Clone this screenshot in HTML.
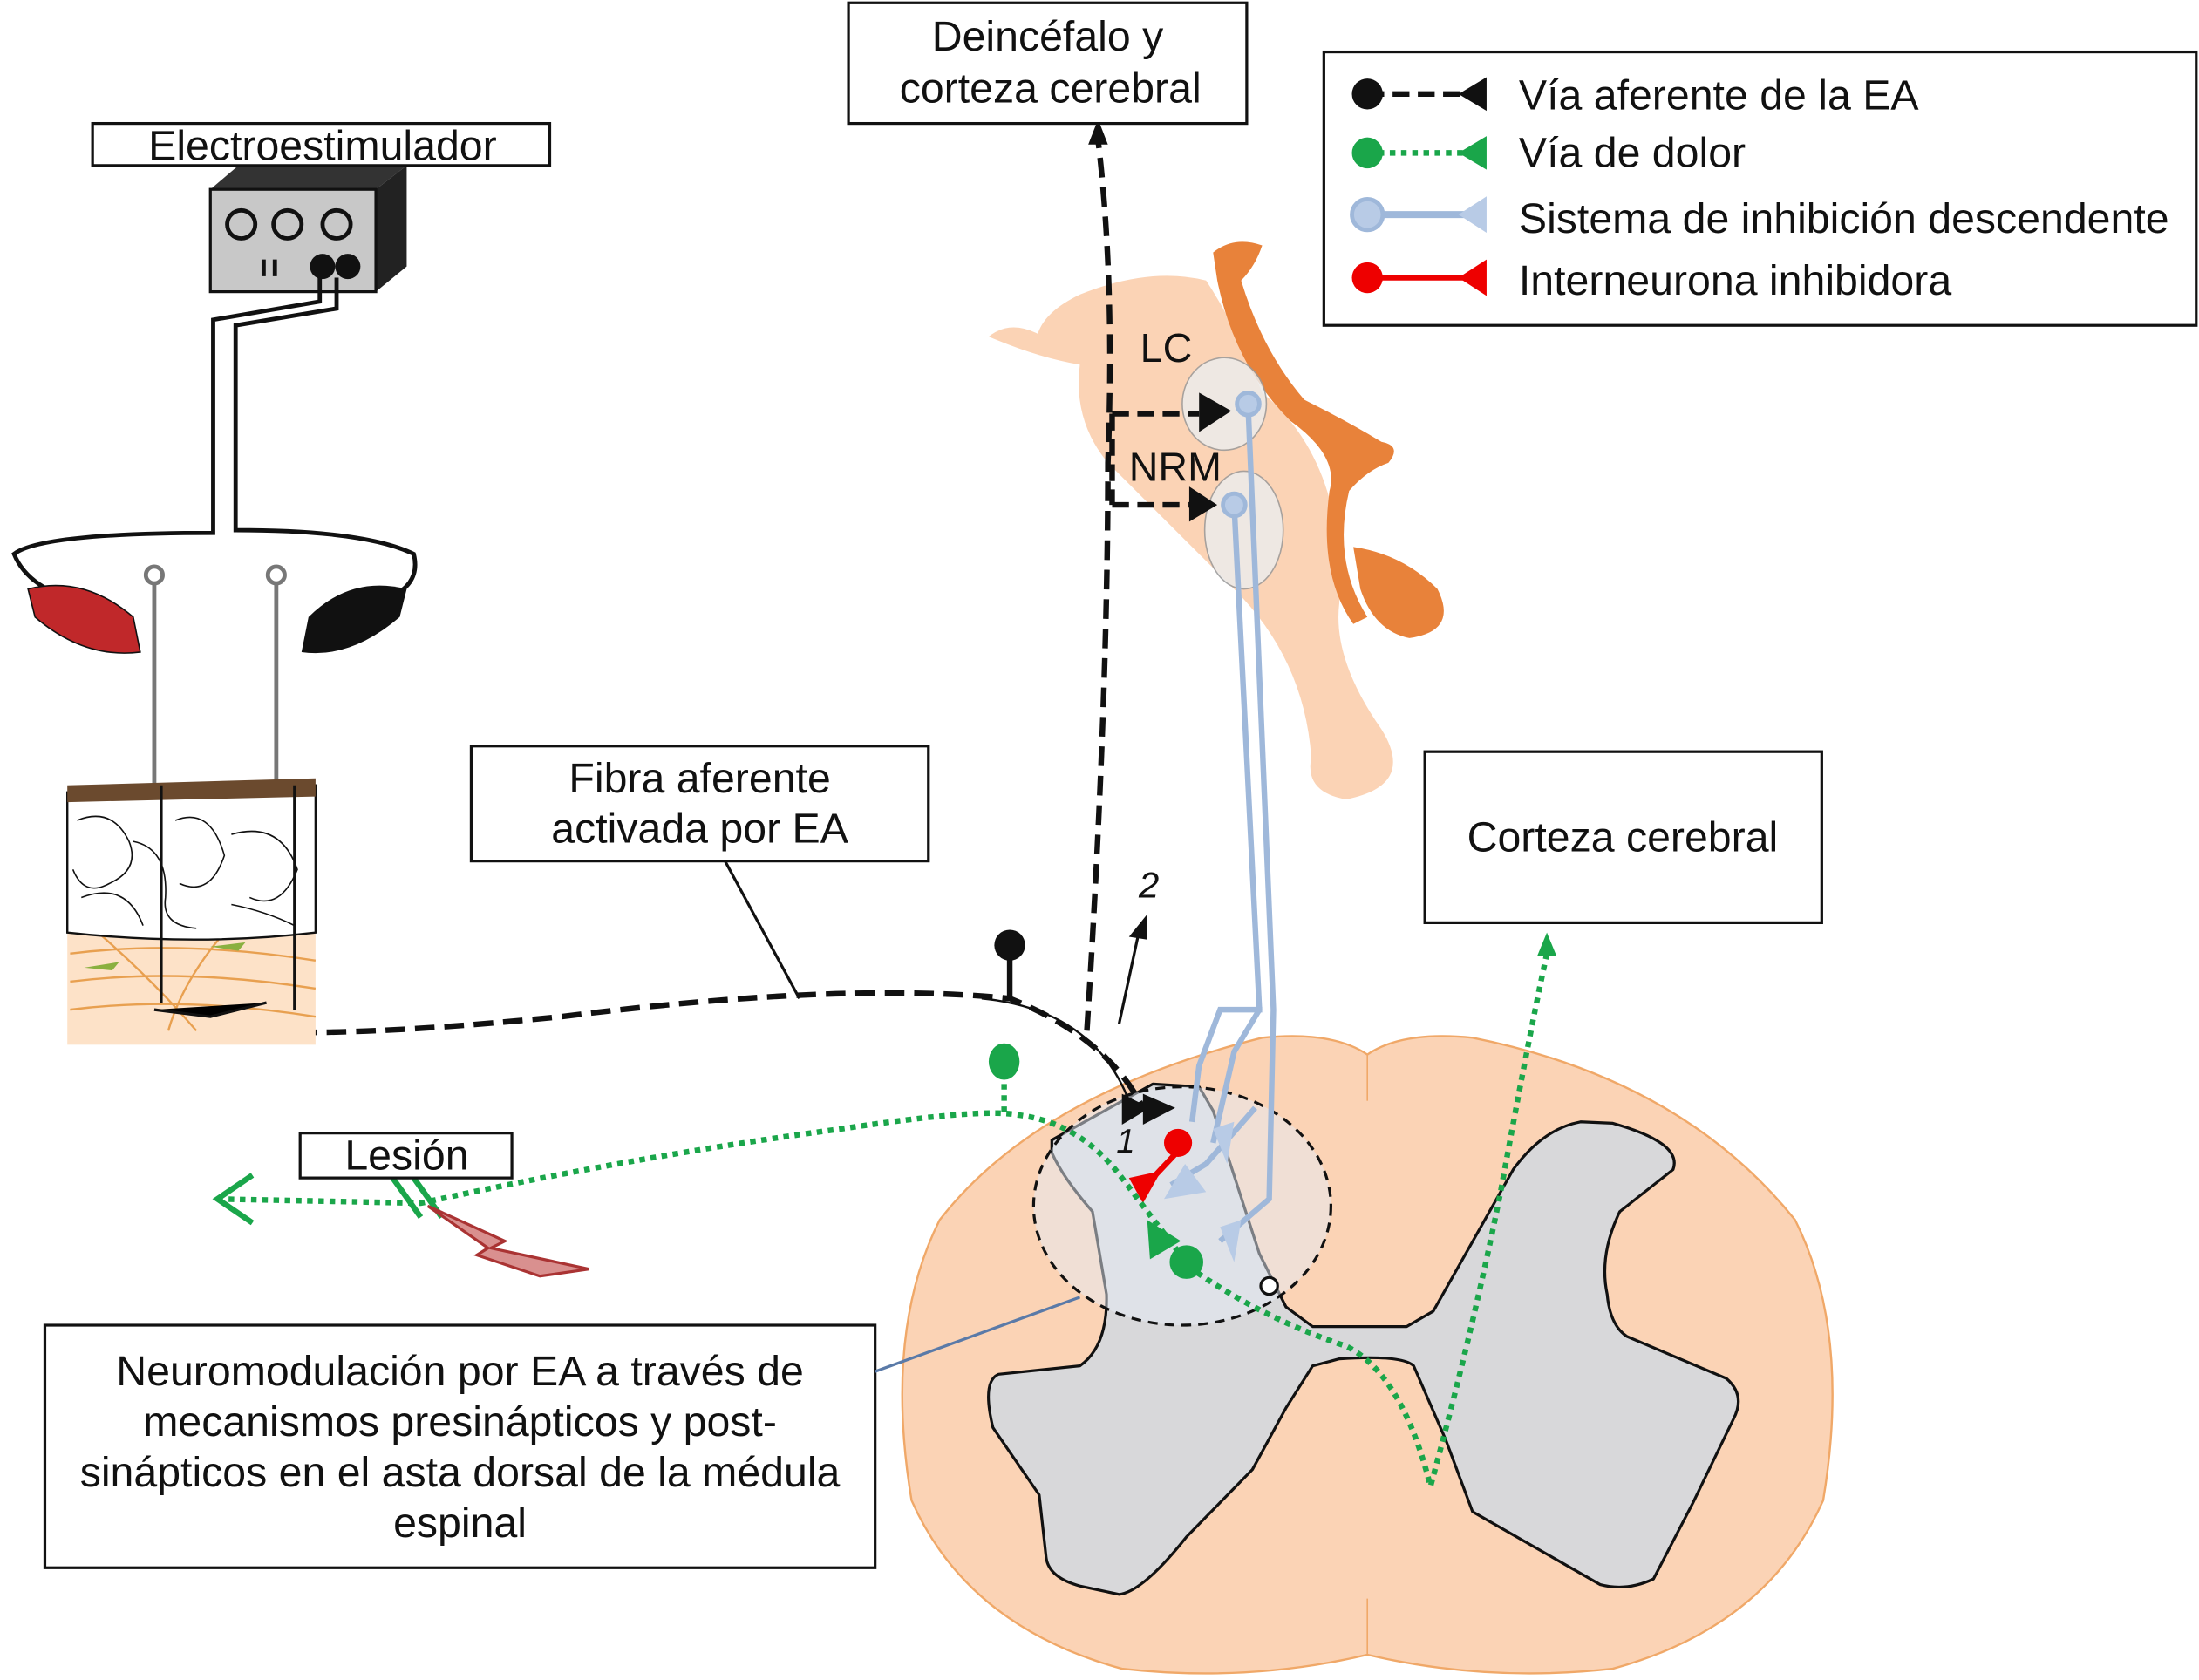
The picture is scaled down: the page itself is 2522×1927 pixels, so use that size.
<!DOCTYPE html>
<html><head><meta charset="utf-8"><style>
html,body{margin:0;padding:0;background:#fff;}
svg{display:block;}
text{font-family:"Liberation Sans",sans-serif;fill:#111;}
</style></head><body>
<svg width="2522" height="1927" viewBox="0 0 1568 1198" xmlns="http://www.w3.org/2000/svg">
<rect width="1568" height="1198" fill="#fff"/>
<!-- brainstem -->
<path d="M705,240 Q720,228 740,238 Q745,222 770,210 Q820,190 860,200 Q880,230 900,280 Q960,330 955,430 Q950,470 985,520 Q1010,560 960,570 Q930,565 935,540 Q930,470 880,420 Q830,370 790,330 Q765,300 770,260 Q740,255 705,240 Z" fill="#fbd3b5"/>
<path d="M865,180 Q880,168 900,175 Q895,190 885,200 Q900,250 930,285 Q960,300 985,315 Q1000,318 990,330 Q975,335 962,350 Q950,400 975,440 L965,445 Q940,410 948,350 Q955,325 920,300 Q880,260 868,200 Z" fill="#e8823a"/>
<path d="M965,390 Q1000,395 1025,420 Q1040,450 1005,455 Q980,450 970,420 Z" fill="#e8823a"/>
<ellipse cx="873" cy="288" rx="30" ry="33" fill="#ececec" stroke="#999" opacity=".85"/>
<ellipse cx="887" cy="378" rx="28" ry="42" fill="#ececec" stroke="#999" opacity=".85"/>
<text x="813" y="258" font-size="29">LC</text>
<text x="805" y="343" font-size="29">NRM</text>
<!-- spinal cord -->
<path d="M975,752 Q1000,735 1050,740 Q1200,770 1280,870 Q1320,950 1300,1070 Q1260,1160 1150,1190 Q1060,1200 975,1180 Q890,1200 800,1190 Q690,1160 650,1070 Q630,950 670,870 Q740,780 900,740 Q950,735 975,752 Z" fill="#fbd3b5" stroke="#f0a868" stroke-width="1.5"/>
<line x1="975" y1="752" x2="975" y2="785" stroke="#f0a868"/>
<line x1="975" y1="1140" x2="975" y2="1180" stroke="#f0a868"/>
<path d="M750,813 L822,773 L855,775 L865,792 L898,894 L917,932 L936,946 L1003,946 L1022,935 L1079,834 Q1100,805 1127,800 L1150,801 Q1200,815 1193,834 L1155,864 Q1140,895 1146,923 Q1148,945 1160,953 L1231,983 Q1245,995 1236,1012 L1207,1072 Q1195,1095 1179,1126 Q1160,1135 1141,1130 L1050,1078 L1031,1027 L1008,974 Q1000,966 955,969 L936,974 L917,1004 L893,1048 L846,1096 Q815,1135 798,1137 L770,1131 Q748,1125 746,1111 L741,1066 L708,1018 Q700,985 712,980 L770,974 Q790,960 789,923 L779,864 Q758,840 750,822 Z" fill="#d8d8da" stroke="#111" stroke-width="2" stroke-linejoin="round"/>
<ellipse cx="843" cy="860" rx="106" ry="85" fill="#e6ecf5" fill-opacity=".5" stroke="#111" stroke-width="2" stroke-dasharray="7,5"/>
<!-- descending blue -->
<g stroke="#9fb8da" stroke-width="4" fill="none">
<path d="M890,290 L908,720 L905,855 L870,885"/>
<path d="M880,360 L898,720 L880,750 L865,815"/>
<path d="M900,720 L870,720 L855,760 L850,800"/>
<path d="M895,790 L860,830 L835,845"/>
</g>
<circle cx="890" cy="288" r="8" fill="#b8cbe6" stroke="#9fb8da" stroke-width="3"/>
<circle cx="880" cy="360" r="8" fill="#b8cbe6" stroke="#9fb8da" stroke-width="3"/>
<path d="M870,875 L880,900 L885,870Z M845,830 L830,855 L860,850Z M865,805 L875,830 L880,800Z" fill="#b8cbe6"/>
<circle cx="905" cy="917" r="6" fill="#fff" stroke="#111" stroke-width="2"/>
<!-- black afferent -->
<path d="M170,735 Q250,740 400,725 Q600,700 720,712 Q790,740 815,790" stroke="#111" stroke-width="4" fill="none" stroke-dasharray="14,7"/>
<path d="M700,712 Q780,720 805,785" stroke="#111" stroke-width="1.5" fill="none"/>
<path d="M775,735 Q790,500 790,330 Q795,200 783,100" stroke="#111" stroke-width="4" fill="none" stroke-dasharray="14,7"/>
<path d="M783,85 L776,103 L790,103Z" fill="#111"/>
<path d="M793,295 L855,295 M793,360 L848,360 M793,295 L793,360" stroke="#111" stroke-width="4" stroke-dasharray="12,6" fill="none"/>
<path d="M855,280 L878,293 L855,308Z M848,347 L868,360 L848,372Z" fill="#111"/>
<line x1="720" y1="682" x2="720" y2="712" stroke="#111" stroke-width="4"/>
<circle cx="720" cy="674" r="11" fill="#111"/>
<path d="M800,780 L820,790 L800,802Z M815,780 L838,790 L815,802Z" fill="#111"/>
<path d="M798,730 L812,665" stroke="#111" stroke-width="2"/><path d="M818,652 L805,668 L818,670Z" fill="#111"/>
<text x="812" y="640" font-size="26" font-style="italic">2</text>
<text x="796" y="822" font-size="24" font-style="italic">1</text>
<!-- interneuron -->
<circle cx="840" cy="815" r="10" fill="#e00"/>
<path d="M838,823 L822,840" stroke="#e00" stroke-width="4"/>
<path d="M805,840 L828,835 L815,858Z" fill="#e00"/>
<!-- green pain -->
<g stroke="#1aa64a" stroke-width="4" fill="none" stroke-dasharray="4,4">
<path d="M155,855 L300,858 Q450,825 600,805 Q700,790 725,795 Q770,800 800,840 Q830,880 850,905 Q900,940 960,960 Q1000,980 1020,1060 Q1050,950 1070,850 Q1090,740 1103,680"/>
<line x1="716" y1="765" x2="716" y2="795"/>
</g>
<path d="M1103,665 L1096,682 L1110,682Z" fill="#1aa64a"/>
<ellipse cx="716" cy="757" rx="11" ry="13" fill="#1aa64a"/>
<circle cx="846" cy="900" r="12" fill="#1aa64a"/>
<path d="M818,870 L842,885 L820,898Z" fill="#1aa64a"/>
<path d="M180,838 L155,855 L180,872" stroke="#1aa64a" stroke-width="4" fill="none"/>
<path d="M280,840 L300,868 M295,840 L315,868" stroke="#1aa64a" stroke-width="4"/>
<path d="M305,860 L360,885 L350,890 L420,905 L385,910 L340,895 L348,890Z" fill="#d9908f" stroke="#a33" stroke-width="2"/>
<!-- device -->
<path d="M150,135 L170,118 L290,118 L268,135Z" fill="#333"/>
<path d="M268,135 L290,118 L290,190 L268,208Z" fill="#222"/>
<rect x="150" y="135" width="118" height="73" fill="#c8c8c8" stroke="#111" stroke-width="2"/>
<g fill="none" stroke="#111" stroke-width="3"><circle cx="172" cy="160" r="10"/><circle cx="205" cy="160" r="10"/><circle cx="240" cy="160" r="10"/></g>
<circle cx="230" cy="190" r="9" fill="#111"/><circle cx="248" cy="190" r="9" fill="#111"/>
<path d="M188,185 v12 M196,185 v12" stroke="#111" stroke-width="3"/>
<g stroke="#111" stroke-width="3" fill="none">
<path d="M228,198 L228,215 L152,228 L152,380 Q30,380 10,395 Q20,420 60,430"/>
<path d="M240,198 L240,220 L168,232 L168,378 Q260,378 295,395 Q300,415 280,425"/>
</g>
<path d="M20,420 Q60,410 95,440 L100,465 Q60,470 25,440Z" fill="#c0282a" stroke="#111"/>
<path d="M290,420 Q250,410 220,440 L215,465 Q250,470 285,440Z" fill="#111"/>
<g stroke="#777" stroke-width="3"><line x1="110" y1="415" x2="110" y2="560"/><line x1="197" y1="415" x2="197" y2="560"/></g>
<circle cx="110" cy="410" r="6" fill="none" stroke="#777" stroke-width="3"/><circle cx="197" cy="410" r="6" fill="none" stroke="#777" stroke-width="3"/>
<!-- skin -->
<rect x="48" y="660" width="177" height="85" fill="#fde2c8"/>
<g stroke="#e8a050" stroke-width="1.5" fill="none"><path d="M50,680 Q130,670 225,685"/><path d="M50,700 Q130,690 225,705"/><path d="M50,720 Q130,710 225,725"/><path d="M70,665 Q110,700 140,735"/><path d="M160,665 Q130,700 120,735"/></g>
<path d="M60,690 l25,-4 l-5,6z M150,675 l25,-3 l-5,6z" fill="#8ab040"/>
<path d="M48,565 L225,560 L225,665 Q140,675 48,665Z" fill="#fff" stroke="#111" stroke-width="1.5"/>
<path d="M48,560 L225,555 L225,568 L48,572Z" fill="#6b4a2e"/>
<g stroke="#111" fill="none"><path d="M55,585 Q80,575 92,600 Q100,620 78,630 Q60,640 52,620"/><path d="M125,585 Q150,575 160,610 Q150,640 128,630"/><path d="M165,595 Q200,585 212,620 Q200,650 178,640"/><path d="M58,640 Q90,628 102,660"/><path d="M95,600 Q120,605 118,640 Q115,660 140,662"/><path d="M165,645 Q190,650 210,660"/></g>
<g stroke="#111" stroke-width="2"><line x1="115" y1="560" x2="115" y2="715"/><line x1="210" y1="560" x2="210" y2="720"/><path d="M110,720 L150,725 L190,715"/></g>
<!-- boxes -->
<g fill="#fff" stroke="#111" stroke-width="2">
<rect x="605" y="2" width="284" height="86"/>
<rect x="944" y="37" width="622" height="195"/>
<rect x="66" y="88" width="326" height="30"/>
<rect x="336" y="532" width="326" height="82"/>
<rect x="1016" y="536" width="283" height="122"/>
<rect x="214" y="808" width="151" height="32"/>
<rect x="32" y="945" width="592" height="173"/>
</g>
<line x1="517" y1="614" x2="570" y2="712" stroke="#111" stroke-width="2"/>
<line x1="624" y1="978" x2="770" y2="925" stroke="#5a7aa8" stroke-width="2"/>
<g font-size="30" text-anchor="middle">
<text x="747" y="36">Deincéfalo y</text><text x="749" y="73">corteza cerebral</text>
<text x="230" y="114">Electroestimulador</text>
<text x="499" y="565">Fibra aferente</text><text x="499" y="601">activada por EA</text>
<text x="1157" y="607">Corteza cerebral</text>
<text x="290" y="834">Lesión</text>
<text x="328" y="988">Neuromodulación por EA a través de</text>
<text x="328" y="1024">mecanismos presinápticos y post-</text>
<text x="328" y="1060">sinápticos en el asta dorsal de la médula</text>
<text x="328" y="1096">espinal</text>
</g>
<!-- legend -->
<g font-size="30">
<text x="1083" y="78">Vía aferente de la EA</text>
<text x="1083" y="119">Vía de dolor</text>
<text x="1083" y="166">Sistema de inhibición descendente</text>
<text x="1083" y="210">Interneurona inhibidora</text>
</g>
<line x1="975" y1="67" x2="1048" y2="67" stroke="#111" stroke-width="4" stroke-dasharray="12,6"/>
<circle cx="975" cy="67" r="11" fill="#111"/><path d="M1040,67 L1060,55 L1060,79Z" fill="#111"/>
<line x1="975" y1="109" x2="1048" y2="109" stroke="#1aa64a" stroke-width="4" stroke-dasharray="4,4"/>
<circle cx="975" cy="109" r="11" fill="#1aa64a"/><path d="M1040,109 L1060,97 L1060,121Z" fill="#1aa64a"/>
<line x1="975" y1="153" x2="1048" y2="153" stroke="#9fb8da" stroke-width="5"/>
<circle cx="975" cy="153" r="11" fill="#b8cbe6" stroke="#9fb8da" stroke-width="3"/><path d="M1040,153 L1060,140 L1060,166Z" fill="#b8cbe6"/>
<line x1="975" y1="198" x2="1048" y2="198" stroke="#e00" stroke-width="4"/>
<circle cx="975" cy="198" r="11" fill="#e00"/><path d="M1040,198 L1060,185 L1060,211Z" fill="#e00"/>
</svg>
</body></html>
